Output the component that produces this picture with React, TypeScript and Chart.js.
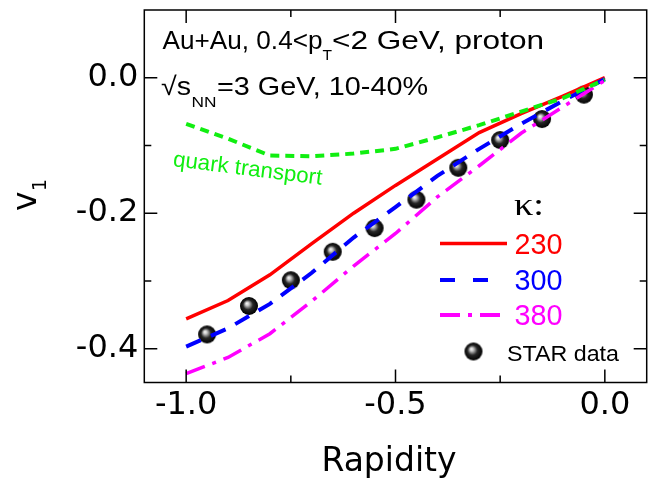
import { useEffect, useRef } from 'react';
import { Chart, registerables } from 'chart.js';

Chart.register(...registerables);

// ---- data ----
const rapidity = [-1.0, -0.9, -0.8, -0.7, -0.6, -0.5, -0.4, -0.3, -0.2, -0.1, 0.0];
const v1Kappa230 = [-0.356, -0.329, -0.291, -0.245, -0.2, -0.159, -0.12, -0.081, -0.053, -0.027, 0.0];
const v1Kappa300 = [-0.397, -0.37, -0.334, -0.288, -0.236, -0.191, -0.145, -0.105, -0.068, -0.034, -0.002];
const v1Kappa380 = [-0.437, -0.413, -0.378, -0.33, -0.278, -0.23, -0.176, -0.13, -0.082, -0.043, -0.004];
const v1Quark = [-0.068, -0.09, -0.115, -0.116, -0.112, -0.105, -0.088, -0.07, -0.05, -0.03, -0.003];
const starRapidity = [-0.95, -0.85, -0.75, -0.65, -0.55, -0.45, -0.35, -0.25, -0.15, -0.05];
const starV1 = [-0.379, -0.337, -0.299, -0.257, -0.222, -0.18, -0.133, -0.092, -0.061, -0.025];

const xMajorTicks = [-1.0, -0.5, 0.0];
const xMinorTicks = [-0.75, -0.25];
const yMajorTicks = [0.0, -0.2, -0.4];
const yMinorTicks = [-0.1, -0.3];
const kappaLabels = ['230', '300', '380'];

const RED = '#ff0000';
const BLUE = '#0000ff';
const MAGENTA = '#ff00ff';
const GREEN = '#11ee11';
const DASH_BLUE = [16, 11];
const DASH_MAGENTA = [20, 8, 4, 8];
const DASH_GREEN = [9, 6];

function makeSphere(r: number): HTMLCanvasElement {
  const c = document.createElement('canvas');
  const s = Math.ceil(r * 2) + 2;
  c.width = s;
  c.height = s;
  const g = c.getContext('2d')!;
  const cx = s / 2;
  const cy = s / 2;
  const grad = g.createRadialGradient(cx - r * 0.25, cy - r * 0.3, 0, cx, cy, r);
  grad.addColorStop(0, '#ffffff');
  grad.addColorStop(0.2, '#c8c8c8');
  grad.addColorStop(0.55, '#262626');
  grad.addColorStop(1, '#000000');
  g.fillStyle = grad;
  g.beginPath();
  g.arc(cx, cy, r, 0, Math.PI * 2);
  g.fill();
  return c;
}

function fitText(
  ctx: CanvasRenderingContext2D,
  text: string,
  x: number,
  baseline: number,
  width: number,
  font: string,
  color: string
) {
  ctx.save();
  ctx.font = font;
  const w = ctx.measureText(text).width;
  ctx.translate(x, baseline);
  ctx.scale(width / w, 1);
  ctx.fillStyle = color;
  ctx.textAlign = 'left';
  ctx.textBaseline = 'alphabetic';
  ctx.fillText(text, 0, 0);
  ctx.restore();
}

export default function App() {
  const ref = useRef<HTMLCanvasElement | null>(null);

  useEffect(() => {
    document.body.style.margin = '0';
    const canvas = ref.current;
    if (!canvas) return;
    const sphere = makeSphere(9);

    const decor = {
      id: 'decor',
      afterDraw(chart: any) {
        const { ctx, chartArea: a, scales } = chart;
        const xs = scales.x;
        const ys = scales.y;
        ctx.save();
        // frame
        ctx.strokeStyle = '#000';
        ctx.lineWidth = 1.5;
        ctx.strokeRect(a.left, a.top, a.right - a.left, a.bottom - a.top);
        // inward ticks on all four sides
        const xt = (v: number, len: number) => {
          const px = xs.getPixelForValue(v);
          ctx.beginPath();
          ctx.moveTo(px, a.bottom);
          ctx.lineTo(px, a.bottom - len);
          ctx.moveTo(px, a.top);
          ctx.lineTo(px, a.top + len);
          ctx.stroke();
        };
        const yt = (v: number, len: number) => {
          const py = ys.getPixelForValue(v);
          ctx.beginPath();
          ctx.moveTo(a.left, py);
          ctx.lineTo(a.left + len, py);
          ctx.moveTo(a.right, py);
          ctx.lineTo(a.right - len, py);
          ctx.stroke();
        };
        xMajorTicks.forEach((v) => xt(v, 13));
        xMinorTicks.forEach((v) => xt(v, 7));
        yMajorTicks.forEach((v) => yt(v, 13));
        yMinorTicks.forEach((v) => yt(v, 7));

        // axis titles
        ctx.fillStyle = '#000';
        ctx.textAlign = 'center';
        ctx.textBaseline = 'alphabetic';
        ctx.font = '33px "DejaVu Sans"';
        ctx.fillText('Rapidity', 389, 471);

        ctx.save();
        ctx.translate(36, 211);
        ctx.rotate(-Math.PI / 2);
        ctx.textAlign = 'left';
        ctx.font = '33px "DejaVu Sans"';
        ctx.fillText('v', 0, 0);
        const vw = ctx.measureText('v').width;
        ctx.font = '19px "DejaVu Sans"';
        ctx.fillText('1', vw + 0.5, 10);
        ctx.restore();

        // header annotation
        const f26 = '26px "Liberation Sans"';
        const f14 = '14px "Liberation Sans"';
        fitText(ctx, 'Au+Au, 0.4<p', 162.5, 48.5, 160, f26, '#000');
        fitText(ctx, 'T', 322.5, 60, 9.5, f14, '#000');
        fitText(ctx, '<2 GeV, proton', 332, 48.5, 212, f26, '#000');
        fitText(ctx, '\u221As', 161, 95, 30, f26, '#000');
        fitText(ctx, 'NN', 191.5, 106.5, 25, f14, '#000');
        fitText(ctx, '=3 GeV, 10-40%', 217, 95, 211, f26, '#000');

        // quark transport label
        ctx.save();
        ctx.translate(172.5, 166);
        ctx.rotate((7.2 * Math.PI) / 180);
        fitText(ctx, 'quark transport', 0, 0, 150, '22px "Liberation Sans"', GREEN);
        ctx.restore();

        // legend
        fitText(ctx, '\u03BA:', 514, 215, 30, '32px "Liberation Serif"', '#000');
        const legendRows = [
          { y: 243.5, base: 254, color: RED, dash: [] as number[], x2: 507 },
          { y: 280, base: 289.5, color: BLUE, dash: [15, 18], x2: 489 },
          { y: 315, base: 324.5, color: MAGENTA, dash: DASH_MAGENTA, x2: 500 },
        ];
        legendRows.forEach((r, i) => {
          ctx.save();
          ctx.strokeStyle = r.color;
          ctx.lineWidth = i === 0 ? 3.5 : 4;
          ctx.setLineDash(r.dash);
          ctx.beginPath();
          ctx.moveTo(440, r.y);
          ctx.lineTo(r.x2, r.y);
          ctx.stroke();
          ctx.restore();
          fitText(ctx, kappaLabels[i], 514.5, r.base, 48, '29px "Liberation Sans"', r.color);
        });
        ctx.drawImage(sphere, 473.5 - sphere.width / 2, 351.5 - sphere.height / 2);
        fitText(ctx, 'STAR data', 507, 360.5, 112, '22px "Liberation Sans"', '#000');
        ctx.restore();
      },
    };

    const line = (data: number[], color: string, dash: number[], width: number, order: number, label: string) => ({
      label,
      data: rapidity.map((x, i) => ({ x, y: data[i] })),
      showLine: true,
      borderColor: color,
      backgroundColor: color,
      borderWidth: width,
      borderDash: dash,
      pointRadius: 0,
      tension: 0,
      fill: false,
      order,
    });

    const chart = new Chart(canvas, {
      type: 'scatter',
      data: {
        datasets: [
          {
            label: 'STAR data',
            data: starRapidity.map((x, i) => ({ x, y: starV1[i] })),
            pointStyle: sphere as any,
            pointRadius: 9,
            showLine: false,
            order: 5,
          },
          line(v1Kappa230, RED, [], 3.5, 4, '230'),
          line(v1Kappa300, BLUE, DASH_BLUE, 4, 3, '300'),
          line(v1Kappa380, MAGENTA, DASH_MAGENTA, 3.5, 2, '380'),
          line(v1Quark, GREEN, DASH_GREEN, 4, 1, 'quark transport'),
        ] as any,
      },
      options: {
        animation: false,
        responsive: false,
        layout: { padding: { top: 7.5, right: 10.3, left: 0, bottom: 0 } },
        plugins: { legend: { display: false }, tooltip: { enabled: false } },
        scales: {
          x: {
            type: 'linear',
            min: -1.1,
            max: 0.1,
            afterBuildTicks: (s: any) => {
              s.ticks = xMajorTicks.map((v) => ({ value: v }));
            },
            afterFit: (s: any) => {
              s.height = 104.5;
              s.paddingLeft = 0;
              s.paddingRight = 0;
              s.paddingTop = 0;
              s.paddingBottom = 0;
            },
            ticks: {
              autoSkip: false,
              maxRotation: 0,
              padding: 4,
              color: '#000',
              font: { family: 'DejaVu Sans', size: 32 },
              callback: (v: any) => Number(v).toFixed(1),
            },
            grid: { display: false, drawTicks: false },
            border: { display: false },
          },
          y: {
            type: 'linear',
            min: -0.45,
            max: 0.1,
            afterBuildTicks: (s: any) => {
              s.ticks = yMajorTicks.map((v) => ({ value: v }));
            },
            afterFit: (s: any) => {
              s.width = 144.3;
              s.paddingLeft = 0;
              s.paddingRight = 0;
              s.paddingTop = 0;
              s.paddingBottom = 0;
            },
            ticks: {
              autoSkip: false,
              padding: 6,
              color: '#000',
              font: { family: 'DejaVu Sans', size: 32 },
              callback: (v: any) => Number(v).toFixed(1),
            },
            grid: { display: false, drawTicks: false },
            border: { display: false },
          },
        },
      },
      plugins: [decor],
    } as any);

    return () => chart.destroy();
  }, []);

  return (
    <div style={{ width: 657, height: 487 }}>
      <canvas ref={ref} width={657} height={487} style={{ display: 'block' }} />
    </div>
  );
}
